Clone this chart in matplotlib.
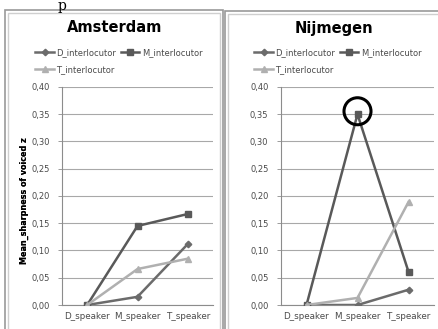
import matplotlib
matplotlib.use("Agg")
import matplotlib.pyplot as plt
from matplotlib.patches import Rectangle, Ellipse
from matplotlib.ticker import FuncFormatter, MultipleLocator

speakers = ["D_speaker", "M_speaker", "T_speaker"]
series_names = ["D_interlocutor", "M_interlocutor", "T_interlocutor"]

amsterdam_d = [0.0, 0.015, 0.112]
amsterdam_m = [0.0, 0.145, 0.167]
amsterdam_t = [0.0, 0.066, 0.085]

nijmegen_d = [0.0, 0.0, 0.028]
nijmegen_m = [0.0, 0.350, 0.061]
nijmegen_t = [0.0, 0.013, 0.189]

W, H = 438, 329
colors = {"D_interlocutor": "#6b6b6b", "M_interlocutor": "#595959", "T_interlocutor": "#b0b0b0"}
markers = {"D_interlocutor": "D", "M_interlocutor": "s", "T_interlocutor": "^"}
msizes = {"D_interlocutor": 3.3, "M_interlocutor": 5.0, "T_interlocutor": 4.8}

plt.rcParams['font.family'] = ['DejaVu Sans']

fig = plt.figure(figsize=(W / 100, H / 100), dpi=100)


def fx(px):
  return px / W


def fy(py):
  return 1 - py / H


# panel frames (double grey border)
for x0, x1, top in [(5, 223, 10), (225, 445, 11)]:
  fig.add_artist(Rectangle((fx(x0), fy(H + 10)), fx(x1 - x0), fy(top) - fy(H + 10),
                           transform=fig.transFigure, facecolor="none",
                           edgecolor="#9a9a9a", linewidth=1.2))
  fig.add_artist(Rectangle((fx(x0 + 3), fy(H + 10)), fx(x1 - x0 - 6), fy(top + 3) - fy(H + 10),
                           transform=fig.transFigure, facecolor="none",
                           edgecolor="#cfcfcf", linewidth=1.0))

# caption letter at the very top
fig.text(fx(62), fy(-1), "p", fontsize=10, family="DejaVu Serif", va="top", ha="center")


def draw_panel(ax_left, ax_right, title, data, title_x):
  y0, y40 = 305, 87
  ax = fig.add_axes([fx(ax_left), fy(y0), fx(ax_right - ax_left), fy(y40) - fy(y0)])
  handles = []
  for name, vals in zip(series_names, data):
    ln, = ax.plot(range(len(speakers)), vals, color=colors[name], marker=markers[name],
                  markersize=msizes[name], linewidth=1.8, label=name, zorder=3)
    handles.append(ln)
  ax.set_xlim(-0.5, 2.5)
  ax.set_ylim(0, 0.40)
  ax.yaxis.set_major_locator(MultipleLocator(0.05))
  ax.yaxis.set_major_formatter(FuncFormatter(lambda v, p: f"{v:.2f}".replace(".", ",")))
  ax.set_xticks(range(len(speakers)))
  ax.set_xticklabels(speakers)
  ax.grid(axis="y", color="#a8a8a8", linewidth=0.8)
  ax.set_axisbelow(True)
  for s in ["top", "right"]:
    ax.spines[s].set_visible(False)
  for s in ["left", "bottom"]:
    ax.spines[s].set_color("#8c8c8c")
    ax.spines[s].set_linewidth(0.8)
  ax.tick_params(axis="y", labelsize=6, colors="#8c8c8c", labelcolor="#4a4a4a", length=3, width=0.6, pad=6)
  ax.tick_params(axis="x", labelsize=6.3, colors="#8c8c8c", labelcolor="#4a4a4a", length=0, pad=5)
  ax.set_ylabel("Mean_sharpness of voiced z", fontsize=5.8, fontweight="bold")
  ax.yaxis.set_label_coords((29 - ax_left) / (ax_right - ax_left), 0.48)

  fig.text(fx(title_x), fy(28), title, fontsize=10.5, fontweight="bold", ha="center", va="center")

  leg_order = [handles[0], handles[2], handles[1]]
  leg = ax.legend(leg_order, [h.get_label() for h in leg_order], ncol=2, frameon=False,
                  loc="upper left", bbox_to_anchor=(fx(ax_left - 30), fy(45)),
                  bbox_transform=fig.transFigure, fontsize=6.0, handlelength=2.2,
                  columnspacing=0.6, handletextpad=0.3, labelspacing=0.95, borderaxespad=0)
  for t in leg.get_texts():
    t.set_color("#4a4a4a")
  return ax


ax1 = draw_panel(62, 213, "Amsterdam", [amsterdam_d, amsterdam_m, amsterdam_t], 115)
ax2 = draw_panel(281, 434, "Nijmegen", [nijmegen_d, nijmegen_m, nijmegen_t], 334)

# highlight circle on the Nijmegen M_speaker peak
peak_x, peak_y = ax2.transData.transform((1, nijmegen_m[1]))
fig.add_artist(Ellipse((peak_x / W, peak_y / H + 3 / H), 27 / W, 27 / H, transform=fig.transFigure,
                       facecolor="none", edgecolor="black", linewidth=2.2, zorder=10))

fig.savefig("out.png", dpi=100)
